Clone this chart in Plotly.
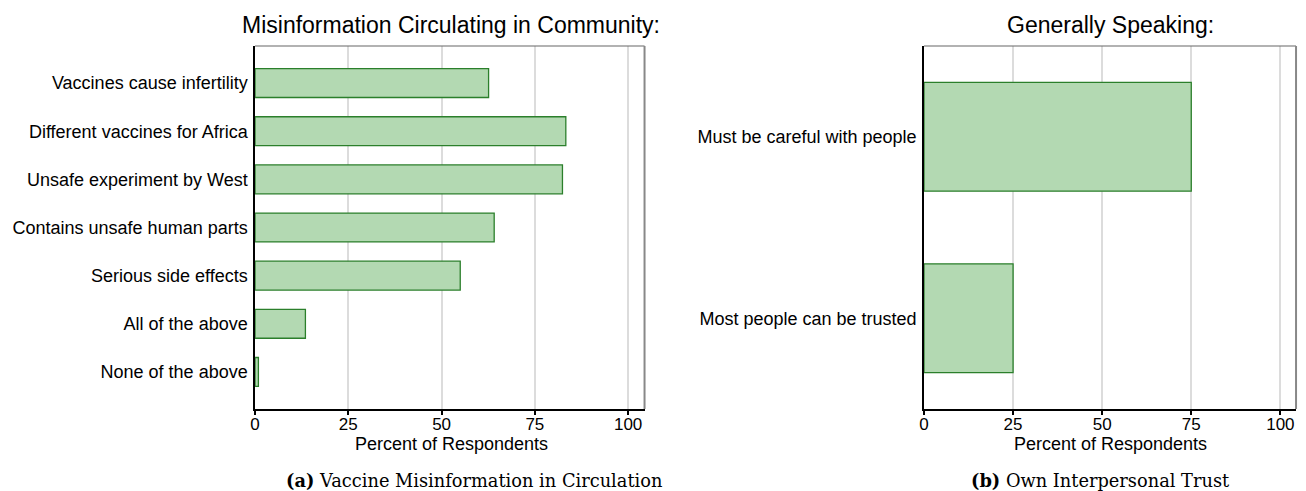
import plotly.graph_objects as go

W, H = 1306, 491

misinfo_cats = ["Vaccines cause infertility", "Different vaccines for Africa",
                "Unsafe experiment by West", "Contains unsafe human parts",
                "Serious side effects", "All of the above", "None of the above"]
misinfo_vals = [62.6, 83.3, 82.4, 64.1, 55.0, 13.5, 0.9]

trust_cats = ["Must be careful with people", "Most people can be trusted"]
trust_vals = [75.0, 25.0]

x_ticks = [0, 25, 50, 75, 100]

FILL = "#b3d9b2"
EDGE = "#2b7f2b"
FONT = "Liberation Sans"

fig = go.Figure()
fig.add_trace(go.Bar(y=misinfo_cats, x=misinfo_vals, orientation="h", width=0.6,
                     marker=dict(color=FILL, line=dict(color=EDGE, width=1.3)),
                     xaxis="x", yaxis="y", showlegend=False))
fig.add_trace(go.Bar(y=trust_cats, x=trust_vals, orientation="h", width=0.6,
                     marker=dict(color=FILL, line=dict(color=EDGE, width=1.3)),
                     xaxis="x2", yaxis="y2", showlegend=False))

def px(x):
    return x / W

def py(y):
    return 1 - y / H

xd1 = [px(251), px(642)]
xd2 = [px(922.5), px(1296)]
yd = [py(409), py(46)]

xcommon = dict(range=[0, 104.4], tickvals=x_ticks, ticks="outside", ticklen=4,
               tickcolor="black", tickwidth=1.5, showline=True, linecolor="black",
               linewidth=1.5, showgrid=True, gridcolor="#dcdcdc", gridwidth=1.5,
               zeroline=False, ticklabelstandoff=-5,
               tickfont=dict(family=FONT, size=17, color="black"),
               fixedrange=True)
ycommon = dict(showline=True, linecolor="black", linewidth=1.5, ticks="",
               showgrid=False, ticklabelstandoff=2,
               tickfont=dict(family=FONT, size=18, color="black"), fixedrange=True)

fig.update_layout(
    width=W, height=H,
    margin=dict(l=0, r=0, t=0, b=0),
    paper_bgcolor="white", plot_bgcolor="white",
    xaxis=dict(domain=xd1, anchor="y", **xcommon),
    yaxis=dict(domain=yd, anchor="x", range=[6.77, -0.77], **ycommon),
    xaxis2=dict(domain=xd2, anchor="y2", **xcommon),
    yaxis2=dict(domain=yd, anchor="x2", range=[1.5, -0.5], **ycommon),
)

# gray frame (top and right)
for xd in (xd1, xd2):
    fig.add_shape(type="line", xref="paper", yref="paper", x0=xd[0], x1=xd[1],
                  y0=yd[1], y1=yd[1], line=dict(color="#666666", width=1.2), layer="above")
    fig.add_shape(type="line", xref="paper", yref="paper", x0=xd[1], x1=xd[1],
                  y0=yd[0], y1=yd[1], line=dict(color="#888888", width=2), layer="above")

# axis titles
for xc in (448, 1110):
    fig.add_annotation(text="Percent of Respondents", xref="paper", yref="paper",
                       x=px(xc), y=py(444), showarrow=False, xanchor="center", yanchor="middle",
                       font=dict(family=FONT, size=18, color="black"))

fig.add_annotation(text="Misinformation Circulating in Community:", xref="paper", yref="paper",
                   x=px(448), y=py(25), showarrow=False, xanchor="center", yanchor="middle",
                   font=dict(family=FONT, size=23, color="black"))
fig.add_annotation(text="Generally Speaking:", xref="paper", yref="paper",
                   x=px(1110), y=py(25), showarrow=False, xanchor="center", yanchor="middle",
                   font=dict(family=FONT, size=23, color="black"))

SERIF = "DejaVu Serif"
fig.add_annotation(text="<b>(a)</b> Vaccine Misinformation in Circulation", xref="paper", yref="paper",
                   x=px(471), y=py(480), showarrow=False, xanchor="center", yanchor="middle",
                   font=dict(family=SERIF, size=17.8, color="black"))
fig.add_annotation(text="<b>(b)</b> Own Interpersonal Trust", xref="paper", yref="paper",
                   x=px(1099), y=py(480), showarrow=False, xanchor="center", yanchor="middle",
                   font=dict(family=SERIF, size=17.8, color="black"))

fig.write_html("out.html")
